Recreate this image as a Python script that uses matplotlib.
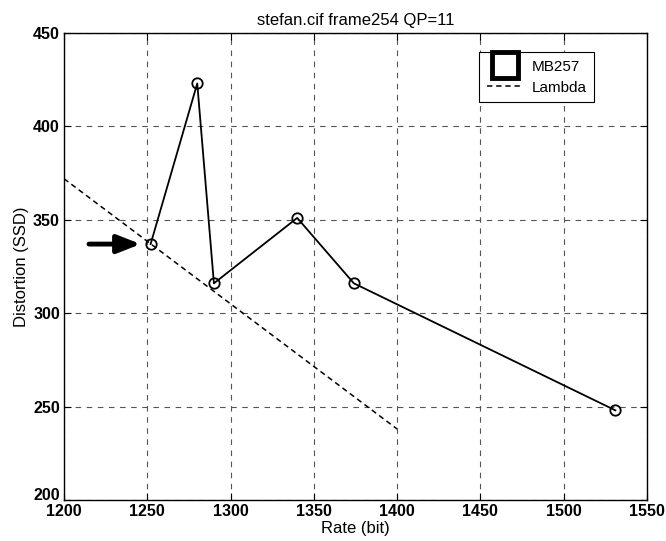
import numpy as np
import matplotlib as mpl
mpl.use('agg')
import matplotlib.pyplot as plt
from matplotlib.lines import Line2D

plt.rcParams['font.family'] = ['Liberation Sans', 'DejaVu Sans']

## data
rate = [1252, 1280, 1290, 1340, 1374, 1531]
dist = [337, 423, 316, 351, 316, 248]
lam_rate = [1200, 1400]
lam_dist = [372, 238]
arrow_from = (1215, 337)
arrow_to = (1246, 337)
xticks = [1200, 1250, 1300, 1350, 1400, 1450, 1500, 1550]
yticks = [200, 250, 300, 350, 400, 450]

fig = plt.figure(figsize=(6.66, 5.41), dpi=100)
ax = fig.add_axes([64 / 666, 1 - 500 / 541, 583 / 666, 467 / 541])

ax.plot(rate, dist, color='black', lw=1.3, marker='o', ms=7.5,
        mfc='none', mec='black', mew=1.3)
ax.plot(lam_rate, lam_dist, color='black', lw=1.1, ls=(0, (3.5, 2.5)))

ax.annotate('', xy=arrow_to, xytext=arrow_from,
            arrowprops=dict(arrowstyle='-|>,head_length=1.4,head_width=0.55',
                            lw=3.5, color='black', shrinkA=0, shrinkB=0))

ax.set_xlim(1200, 1550)
ax.set_ylim(200, 450)
ax.set_xticks(xticks)
ax.set_yticks(yticks)
ax.tick_params(direction='in', top=True, right=True, length=5, width=0.8,
               labelsize=11.5, pad=3)
for lbl in ax.get_xticklabels() + ax.get_yticklabels():
    lbl.set_fontweight('bold')
# bottom y label sits a bit higher so it clears the "1200"
ax.get_yticklabels()[0].set_verticalalignment('baseline')
ax.grid(True, color='#555555', ls=(0, (5, 5)), lw=0.8)
for s in ax.spines.values():
    s.set_linewidth(1.0)

ax.set_title('stefan.cif frame254 QP=11', fontsize=12, pad=6)
ax.set_xlabel('Rate (bit)', fontsize=12, labelpad=1)
ax.set_ylabel('Distortion (SSD)', fontsize=12, labelpad=3)

handles = [Line2D([], [], ls='none', marker='s', ms=19, mfc='none',
                  mec='black', mew=3.5),
           Line2D([], [], color='black', lw=1.1, ls=(0, (3.5, 2.5)))]
leg = ax.legend(handles, ['MB257', 'Lambda'], loc='upper right',
                bbox_to_anchor=(0.909, 0.959), borderaxespad=0, fontsize=11,
                fancybox=False, framealpha=1, edgecolor='black',
                borderpad=0.5, handlelength=2.3, handletextpad=0.6,
                labelspacing=0.45)
leg.get_frame().set_linewidth(0.8)

fig.savefig('out.png', dpi=100)
